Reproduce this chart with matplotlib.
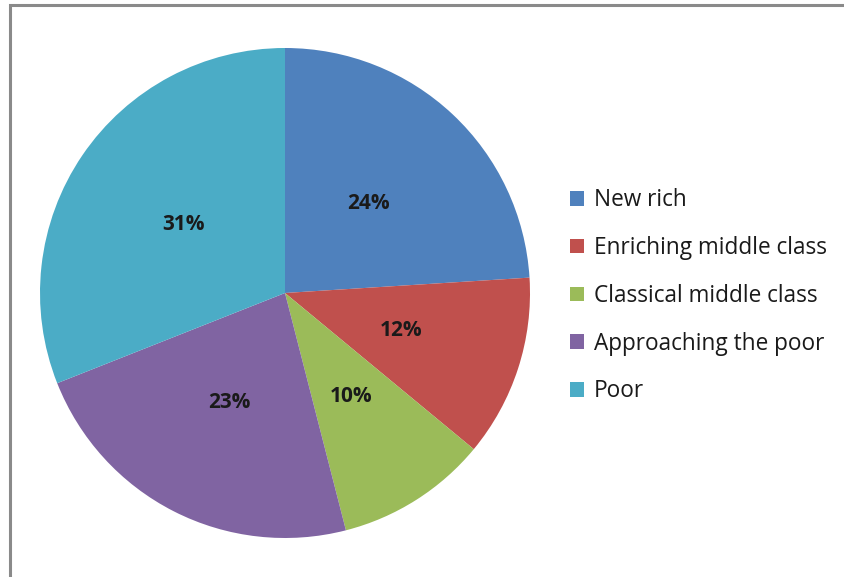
import matplotlib.pyplot as plt
from matplotlib.patches import Rectangle

plt.rcParams['font.family'] = ['Open Sans', 'DejaVu Sans']

groups = ['New rich', 'Enriching middle class', 'Classical middle class',
          'Approaching the poor', 'Poor']
shares = [24, 12, 10, 23, 31]
colors = ['#4F81BD', '#C0504D', '#9BBB59', '#8064A2', '#4BACC6']

W, H = 844, 577
fig = plt.figure(figsize=(W / 100, H / 100), dpi=100)

# grey frame around the chart area (runs off right/bottom)
fig.patches.append(Rectangle((10 / W, -0.05), 1.1, (H - 5) / H + 0.05,
                             transform=fig.transFigure, fill=False,
                             edgecolor='#8a8a8a', linewidth=2.2))

cx, cy, r = 285, 293, 245
ax = fig.add_axes([(cx - r) / W, (H - cy - r) / H, 2 * r / W, 2 * r / H])
wedges, texts, autotexts = ax.pie(
    shares, colors=colors, startangle=90, counterclock=False,
    autopct='%d%%', pctdistance=0.5,
    textprops={'fontsize': 15, 'fontweight': 'bold', 'color': '#1a1a1a'})
ax.set_xlim(-1, 1)
ax.set_ylim(-1, 1)
ax.set_aspect('equal')

leg = fig.legend(wedges, groups, loc='upper left',
                 bbox_to_anchor=(559 / W, (H - 177) / H),
                 frameon=False, fontsize=16.3, labelspacing=1.05,
                 handlelength=0.6, handleheight=0.6, handletextpad=0.45,
                 borderpad=0)
for t in leg.get_texts():
    t.set_color('#1a1a1a')

fig.savefig('out.png', dpi=100)
